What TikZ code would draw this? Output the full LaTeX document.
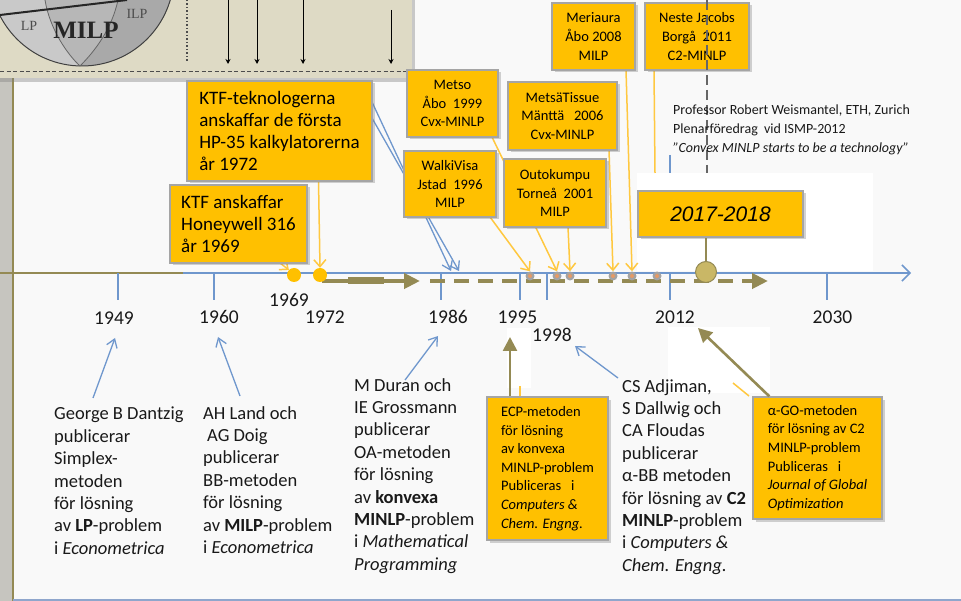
\documentclass[tikz,border=0pt]{standalone}
\usepackage{fontspec}
\setmainfont{Carlito}
\newfontfamily\timesfam{Liberation Serif}
\newfontfamily\arialfam{Liberation Sans}
\usetikzlibrary{arrows.meta,shadows,calc}
\definecolor{gold}{HTML}{FFC000}
\definecolor{goldline}{HTML}{FFC840}
\definecolor{boxedge}{HTML}{A5A5A5}
\definecolor{axisblue}{HTML}{6F97CD}
\definecolor{olivec}{HTML}{948A54}
\definecolor{khaki}{HTML}{C9B766}
\definecolor{tanbg}{HTML}{DEDAC5}
\definecolor{pagebg}{HTML}{F9F9F9}
\definecolor{dotgray}{HTML}{A3A3A3}
\definecolor{dotorange}{HTML}{E59A66}
\definecolor{stripgray}{HTML}{C6C5BF}
\definecolor{lpgray}{HTML}{C9C9C9}
\definecolor{milpgray}{HTML}{B7B7B7}
\definecolor{ilpgray}{HTML}{A9A9A9}
\definecolor{frameblue}{HTML}{8FA6CC}
\newcommand{\boxfont}{\fontsize{19}{22}\selectfont}
\newcommand{\smallboxfont}{\fontsize{14.5}{18.6}\selectfont}
\newcommand{\notefont}{\fontsize{18.5}{22.4}\selectfont}
\newcommand{\yearfont}{\fontsize{19.5}{22}\selectfont}
\newcommand{\quotefont}{\fontsize{14}{18.8}\selectfont}
\begin{document}
\begin{tikzpicture}[x=1pt,y=-1pt,
  gbox/.style={draw=boxedge, line width=1.3pt, fill=gold, inner sep=0pt, text=black,
    drop shadow={shadow xshift=2.5pt, shadow yshift=-2.5pt, opacity=0.35}},
  yearlabel/.style={font=\yearfont, inner sep=1pt, text=black!90},
  notetext/.style={font=\notefont, align=left, anchor=north west, inner sep=0pt, text=black!90},
  axistick/.style={axisblue, line width=1.4pt},
  yarrow/.style={goldline, line width=1.5pt, -{Straight Barb[length=7pt,width=12pt]}},
  barrow/.style={axisblue, line width=1.3pt, -{Straight Barb[length=8pt,width=11pt]}},
  oarrow/.style={olivec, line width=2.6pt, -{Triangle[length=14pt,width=14pt]}},
  ydot/.style={circle, fill=gold, minimum size=14pt, inner sep=0pt},
  gdot/.style={circle, fill=dotgray, minimum size=9pt, inner sep=0pt,
    path picture={\fill[dotorange] (path picture bounding box.center) circle (2pt);}},
]
\useasboundingbox (0,0) rectangle (961,601);
\fill[pagebg] (0,0) rectangle (961,601);

% left frame strip and bottom frame line
\fill[stripgray] (0,78) rectangle (12,601);
\draw[olivec, line width=1.5pt] (13,78) -- (13,601);
\draw[frameblue, line width=2pt] (13,599.5) -- (961,599.5);

% inset with the LP / MILP / ILP sketch
\path[fill=tanbg, drop shadow={shadow xshift=3pt, shadow yshift=-4pt, opacity=0.4}] (-10,-10) rectangle (412,78);
\begin{scope}
  \clip (82,-26) circle (92pt);
  \fill[lpgray] (-20,-130) rectangle (190,80);
  \fill[milpgray] (45,-130) -- (45,0) .. controls (50,30) and (68,55) .. (80,66)
     .. controls (96,50) and (112,28) .. (118,0) -- (118,-130) -- cycle;
  \fill[ilpgray] (118,-130) -- (118,0) .. controls (112,28) and (96,50) .. (80,66)
     -- (80,90) -- (200,90) -- (200,-130) -- cycle;
\end{scope}
\draw[black!75, line width=1pt] (82,-26) circle (92pt);
\draw[black!60, line width=0.8pt] (45,0) .. controls (50,30) and (68,55) .. (80,66);
\draw[black!60, line width=0.8pt] (118,0) .. controls (112,28) and (96,50) .. (80,66);
\draw[black!85, line width=2pt] (0,15) -- (127,0);
\node[font=\timesfam\fontsize{14}{14}\selectfont, text=black!70] (lplabel) at (29,26) {LP};
\node[font=\timesfam\bfseries\fontsize{25}{25}\selectfont, text=black!85] (milplabel) at (86,30) {MILP};
\node[font=\timesfam\fontsize{14}{14}\selectfont, text=black!70] (ilplabel) at (137,14) {ILP};
\draw[black!70, line width=1.3pt, dash pattern=on 1.5pt off 2pt] (187,0) -- (187,62);
\foreach \x/\s in {228/0,257/0,303/0,391/10}
  \draw[black, line width=0.9pt, -{Stealth[length=5pt,width=5pt]}] (\x,\s) -- (\x,64);
\draw[black!70, line width=1pt, dash pattern=on 4pt off 2.5pt] (0,72) -- (412,72);

% white patches
\fill[white] (637,173) rectangle (873,271);
\fill[white] (507,328) rectangle (531,388);
\fill[white] (668,327) rectangle (770,393);

% time axis
\draw[olivec, line width=1.8pt] (0,273) -- (183,273);
\coordinate (axisstart) at (183,273);
\coordinate (axisend) at (911,273);
\draw[axisblue, line width=1.5pt, -{Straight Barb[length=8pt,width=16pt]}] (axisstart) -- (axisend);
\foreach \x in {118,214,441,520,547,670,827}
  \draw[axistick] (\x,273) -- (\x,300);
\draw[axistick] (670,155) -- (670,173);

\node[yearlabel] (y1949) at (114,318) {1949};
\node[yearlabel] (y1960) at (219,317) {1960};
\node[yearlabel] (y1969) at (289,300) {1969};
\node[yearlabel] (y1972) at (325,317) {1972};
\node[yearlabel] (y1986) at (448,317) {1986};
\node[yearlabel] (y1995) at (517.5,317) {1995};
\node[yearlabel] (y1998) at (552,335) {1998};
\node[yearlabel] (y2012) at (675,317) {2012};
\node[yearlabel] (y2030) at (832.5,317) {2030};

% olive progress arrow
\coordinate (oa0) at (322,281);
\coordinate (oa1) at (420,281);
\coordinate (oa2) at (430,281);
\coordinate (oa3) at (768,281);
\draw[olivec, line width=4pt, -{Triangle[length=16pt,width=15pt]}] (oa0) -- (oa1);
\draw[olivec, line width=7pt] (348,281) -- (384,281);
\draw[olivec, line width=4pt, dash pattern=on 15pt off 9pt, -{Triangle[length=16pt,width=15pt]}] (oa2) -- (oa3);

% event dots
\node[ydot] (d1969) at (294,275) {};
\node[ydot] (d1972) at (320,275) {};
\node[gdot] (g1996) at (530,276) {};
\node[gdot] (g1999) at (557,276) {};
\node[gdot] (g2001) at (570,276) {};
\node[gdot] (g2006) at (613,276) {};
\node[gdot] (g2008) at (632,276) {};
\node[gdot] (g2011) at (657,276) {};
\node[circle, fill=khaki, draw=olivec, line width=1pt, minimum size=21pt, inner sep=0pt] (bigc) at (706,272) {};

% boxes above the axis (positions first, drawn after connectors)
\path (279.5,131) coordinate (cktf1) (238.5,224) coordinate (cktf2)
      (452.5,103.5) coordinate (cmetso) (450,184) coordinate (cwalki)
      (562.5,116) coordinate (ctissue) (555,193) coordinate (couto)
      (593.5,36.5) coordinate (cmeri) (697,36.5) coordinate (cneste);

% connectors hidden under the boxes
\coordinate (tip86a) at (451,271);
\coordinate (tip86b) at (459,271);
\coordinate (nesteend) at (655,173);
\draw[barrow] (372,102) -- (tip86a);
\draw[barrow] (372,118) -- (tip86b);
\draw[yarrow] (492,137) -- (g1999.north);
\draw[yarrow] (490,217) -- (g1996.north);
\draw[yarrow] (568,227) -- (g2001.north);
\draw[yarrow] (609,150) -- (g2006.north);
\draw[yarrow] (626,70) -- (g2008.north);
\draw[goldline, line width=1.5pt] (654,70) -- (nesteend);
\draw[yarrow] (280,263) -- (d1969.north west);
\draw[yarrow] (318.5,181) -- (d1972.north);

\node[gbox, minimum width=185pt, minimum height=100pt, align=left, font=\boxfont] (ktf1) at (cktf1)
  {KTF-teknologerna\\anskaffar de första\\HP-35 kalkylatorerna\\år 1972};
\node[gbox, minimum width=137pt, minimum height=78pt, align=left, font=\boxfont] (ktf2) at (cktf2)
  {KTF anskaffar\\Honeywell 316\\år 1969};
\node[gbox, minimum width=91pt, minimum height=67pt, align=center, font=\smallboxfont] (metso) at (cmetso)
  {Metso\\Åbo\ \ 1999\\Cvx-MINLP};
\node[gbox, minimum width=92pt, minimum height=66pt, align=center, font=\smallboxfont] (walki) at (cwalki)
  {WalkiVisa\\Jstad\ \ 1996\\MILP};
\node[gbox, minimum width=109pt, minimum height=68pt, align=center, font=\smallboxfont] (tissue) at (ctissue)
  {MetsäTissue\\Mänttä\ \ \ 2006\\Cvx-MINLP};
\node[gbox, minimum width=102pt, minimum height=68pt, align=center, font=\smallboxfont] (outo) at (couto)
  {Outokumpu\\Torneå\ \ 2001\\MILP};
\node[gbox, minimum width=83pt, minimum height=67pt, align=center, font=\smallboxfont] (meri) at (cmeri)
  {Meriaura\\Åbo 2008\\MILP};
\node[gbox, minimum width=104pt, minimum height=67pt, align=center, font=\smallboxfont] (neste) at (cneste)
  {Neste Jacobs\\Borgå\ \ 2011\\C2-MINLP};

% dashed marker line through the 2011 box
\draw[black!60, line width=2.5pt, dash pattern=on 10pt off 5pt] (707,0) -- (707,173);

% quotation
\node[font=\quotefont, align=left, anchor=north west, inner sep=0pt, text=black!90] (quote) at (673,105)
  {Professor Robert Weismantel, ETH, Zurich\\Plenarföredrag\ \ vid ISMP-2012\\\textit{"Convex MINLP starts to be a technology"}};

% 2017-2018 box and its link to the axis
\node[gbox, minimum width=165pt, minimum height=46pt, font=\arialfam\itshape\fontsize{21}{21}\selectfont] (y1718) at (720.5,214) {2017-2018};
\draw[olivec, line width=2pt] (bigc.north) -- (bigc.north |- y1718.south);

% publication notes below the axis
\node[notetext] (dantzig) at (54,407)
  {George B Dantzig\\publicerar\\Simplex-\\metoden\\för lösning\\av \textbf{LP}-problem\\i \textit{Econometrica}};
\node[notetext] (land) at (203,406)
  {AH Land och\\\hspace*{4pt}AG Doig\\publicerar\\BB-metoden\\för lösning\\av \textbf{MILP}-problem\\i \textit{Econometrica}};
\node[notetext] (duran) at (354,378)
  {M Duran och\\IE Grossmann\\publicerar\\OA-metoden\\för lösning\\av \textbf{konvexa}\\\textbf{MINLP}-problem\\i \textit{Mathematical}\\\textit{Programming}};
\node[notetext] (adjiman) at (622,379)
  {CS Adjiman,\\S Dallwig och\\CA Floudas\\publicerar\\α-BB metoden\\för lösning av \textbf{C2}\\\textbf{MINLP}-problem\\i \textit{Computers \&}\\\textit{Chem. Engng.}};

\coordinate (tip1949) at (115,338);
\coordinate (tip1960) at (218,337);
\coordinate (tip1986) at (438,336);
\coordinate (tip1998) at (575,346);
\draw[barrow] (93,398) -- (tip1949);
\draw[barrow] (240,396) -- (tip1960);
\draw[barrow] (405,380) -- (tip1986);
\draw[barrow] (618,378) -- (tip1998);

% hidden connector fragments
\coordinate (fa0) at (520,386); \coordinate (fa1) at (520,397);
\coordinate (fb0) at (733,383); \coordinate (fb1) at (749,396);
\draw[goldline, line width=1.5pt] (fa0) -- (fa1);
\draw[goldline, line width=1.5pt] (fb0) -- (fb1);

% later publications
\node[gbox, minimum width=121pt, minimum height=143pt, align=left, font=\smallboxfont] (ecp) at (547.5,468.5)
  {ECP-metoden\\för lösning\\av konvexa\\MINLP-problem\\Publiceras\ \ \ i\\\textit{Computers \&}\\\textit{Chem. Engng.}};
\node[gbox, minimum width=129pt, minimum height=122pt, align=left, font=\smallboxfont] (ago) at (817.5,458)
  {α-GO-metoden\\för lösning av C2\\MINLP-problem\\Publiceras\ \ \ i\\\textit{Journal of Global}\\\textit{Optimization}};
\coordinate (tipecp) at (510,337);
\coordinate (tipago) at (698,328);
\draw[oarrow] ($(ecp.north)+(-37.5,0)$) -- (tipecp);
\draw[oarrow] ($(ago.north west)+(17,0)$) -- (tipago);
\end{tikzpicture}
\end{document}
